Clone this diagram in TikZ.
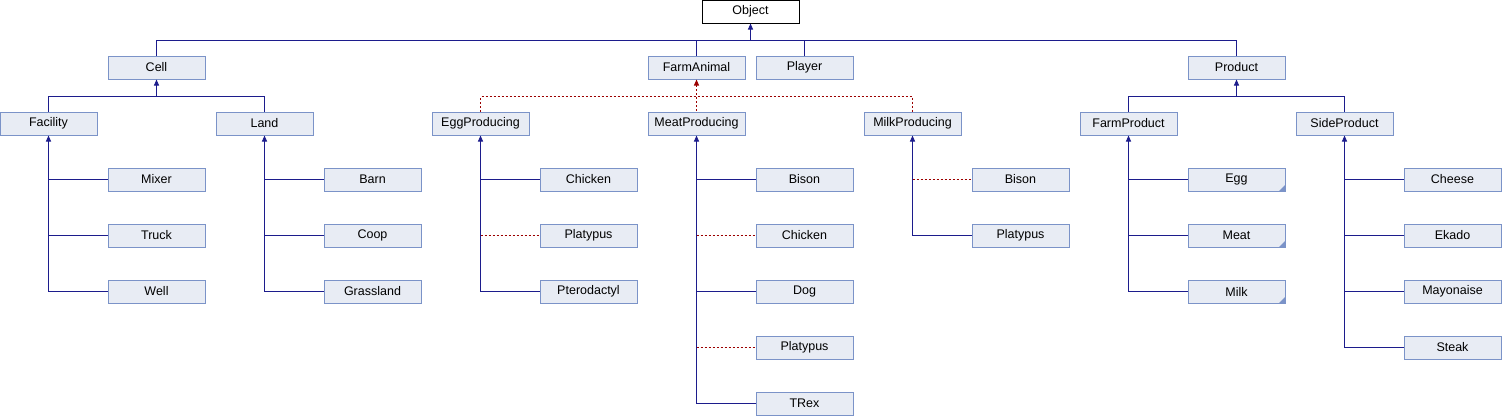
\documentclass[tikz,border=0pt]{standalone}
\usepackage{fontspec}
\setmainfont{Liberation Sans}
\usetikzlibrary{arrows.meta}

\definecolor{boxfill}{HTML}{E8ECF4}
\definecolor{boxline}{HTML}{7B93C8}
\definecolor{publine}{HTML}{1C1C8C}
\definecolor{privline}{HTML}{9B0000}

\tikzset{
  cls/.style={draw=boxline, fill=boxfill, line width=1pt, minimum width=97pt,
    minimum height=23pt, inner sep=0pt, font=\fontsize{12.5}{14}\selectfont},
  root/.style={cls, draw=black, fill=white},
  pub/.style={draw=publine, line width=1pt},
  priv/.style={draw=privline, line width=1.1pt, dash pattern=on 2pt off 2pt},
  tip/.style={{Triangle[width=5pt,length=6pt]}-},
  more/.style={path picture={\fill[boxline] (path picture bounding box.south east)
    -- ++(-6pt,0) -- ++(6pt,6pt) -- cycle;}}
}

\begin{document}
\begin{tikzpicture}[x=1pt, y=1pt]

    \useasboundingbox (0,0) rectangle (1502,-416);

    % Top level
    \node[root] (object) at (750.5,-11.5) {Object};

    \node[cls] (cell)       at (156.5,-67.5)  {Cell};
    \node[cls] (farmanimal) at (696.5,-67.5)  {FarmAnimal};
    \node[cls] (player)     at (804.5,-67.5)  {Player};
    \node[cls] (product)    at (1236.5,-67.5) {Product};

    % Second level
    \node[cls] (facility)    at (48.5,-123.5)   {Facility};
    \node[cls] (land)        at (264.5,-123.5)  {Land};
    \node[cls] (eggprod)     at (480.5,-123.5)  {EggProducing};
    \node[cls] (meatprod)    at (696.5,-123.5)  {MeatProducing};
    \node[cls] (milkprod)    at (912.5,-123.5)  {MilkProducing};
    \node[cls] (farmproduct) at (1128.5,-123.5) {FarmProduct};
    \node[cls] (sideproduct) at (1344.5,-123.5) {SideProduct};

    % Leaves
    \node[cls] (mixer) at (156.5,-179.5) {Mixer};
    \node[cls] (truck) at (156.5,-235.5) {Truck};
    \node[cls] (well)  at (156.5,-291.5) {Well};

    \node[cls] (barn)      at (372.5,-179.5) {Barn};
    \node[cls] (coop)      at (372.5,-235.5) {Coop};
    \node[cls] (grassland) at (372.5,-291.5) {Grassland};

    \node[cls] (eggchicken)  at (588.5,-179.5) {Chicken};
    \node[cls] (eggplatypus) at (588.5,-235.5) {Platypus};
    \node[cls] (pterodactyl) at (588.5,-291.5) {Pterodactyl};

    \node[cls] (meatbison)    at (804.5,-179.5) {Bison};
    \node[cls] (meatchicken)  at (804.5,-235.5) {Chicken};
    \node[cls] (dog)          at (804.5,-291.5) {Dog};
    \node[cls] (meatplatypus) at (804.5,-347.5) {Platypus};
    \node[cls] (trex)         at (804.5,-403.5) {TRex};

    \node[cls] (milkbison)    at (1020.5,-179.5) {Bison};
    \node[cls] (milkplatypus) at (1020.5,-235.5) {Platypus};

    \node[cls, more] (egg)  at (1236.5,-179.5) {Egg};
    \node[cls, more] (meat) at (1236.5,-235.5) {Meat};
    \node[cls, more] (milk) at (1236.5,-291.5) {Milk};

    \node[cls] (cheese)    at (1452.5,-179.5) {Cheese};
    \node[cls] (ekado)     at (1452.5,-235.5) {Ekado};
    \node[cls] (mayonaise) at (1452.5,-291.5) {Mayonaise};
    \node[cls] (steak)     at (1452.5,-347.5) {Steak};

    % Object children
    \coordinate (objbus) at ([yshift=-17pt]object.south);
    \draw[pub, tip] (object.south) -- (objbus);
    \draw[pub] (cell.north) |- (objbus) -| (product.north);
    \draw[pub] (farmanimal.north) -- (farmanimal.north |- objbus);
    \draw[pub] (player.north) -- (player.north |- objbus);

    % Cell children
    \draw[pub, tip] (cell.south) -- ++(0,-17) coordinate (cellbus);
    \draw[pub] (facility.north) |- (cellbus) -| (land.north);

    % FarmAnimal children
    \draw[priv, tip, privline] (farmanimal.south) -- (meatprod.north);
    \draw[priv] (eggprod.north) |- ([yshift=-17pt]farmanimal.south) -| (milkprod.north);

    % Product children
    \draw[pub, tip] (product.south) -- ++(0,-17) coordinate (prodbus);
    \draw[pub] (farmproduct.north) |- (prodbus) -| (sideproduct.north);

    % Column trunks
    \draw[pub, tip] (facility.south) |- (well.west);
    \foreach \c in {mixer, truck}
        \draw[pub] (facility.south |- \c.west) -- (\c.west);

    \draw[pub, tip] (land.south) |- (grassland.west);
    \foreach \c in {barn, coop}
        \draw[pub] (land.south |- \c.west) -- (\c.west);

    \draw[pub, tip] (eggprod.south) |- (pterodactyl.west);
    \draw[pub] (eggprod.south |- eggchicken.west) -- (eggchicken.west);
    \draw[priv] (eggprod.south |- eggplatypus.west) -- (eggplatypus.west);

    \draw[pub, tip] (meatprod.south) |- (trex.west);
    \foreach \c in {meatbison, dog}
        \draw[pub] (meatprod.south |- \c.west) -- (\c.west);
    \foreach \c in {meatchicken, meatplatypus}
        \draw[priv] (meatprod.south |- \c.west) -- (\c.west);

    \draw[pub, tip] (milkprod.south) |- (milkplatypus.west);
    \draw[priv] (milkprod.south |- milkbison.west) -- (milkbison.west);

    \draw[pub, tip] (farmproduct.south) |- (milk.west);
    \foreach \c in {egg, meat}
        \draw[pub] (farmproduct.south |- \c.west) -- (\c.west);

    \draw[pub, tip] (sideproduct.south) |- (steak.west);
    \foreach \c in {cheese, ekado, mayonaise}
        \draw[pub] (sideproduct.south |- \c.west) -- (\c.west);

\end{tikzpicture}
\end{document}
